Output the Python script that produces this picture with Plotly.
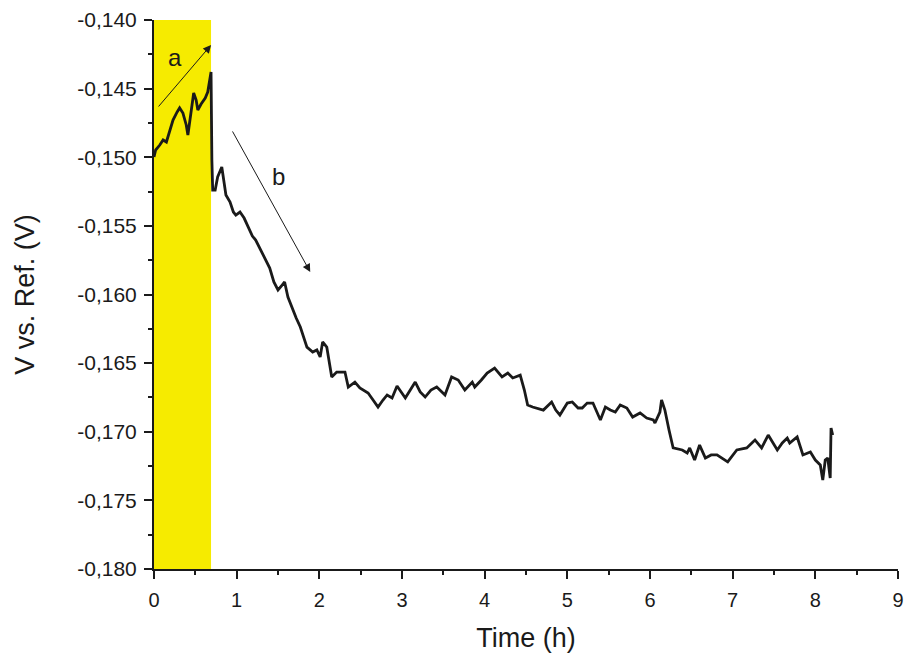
import plotly.graph_objects as go

time_h = [0.00, 0.02, 0.07, 0.11, 0.15, 0.19, 0.23, 0.28, 0.31, 0.35, 0.39, 0.41, 0.45, 0.48, 0.51,
          0.53, 0.57, 0.62, 0.65, 0.68, 0.69, 0.70, 0.71, 0.74, 0.77, 0.82, 0.87, 0.92, 0.96, 0.99,
          1.04, 1.09, 1.14, 1.19, 1.23, 1.28, 1.34, 1.40, 1.45, 1.50, 1.55, 1.58, 1.62, 1.67, 1.72,
          1.77, 1.80, 1.85, 1.92, 1.97, 2.01, 2.04, 2.09, 2.15, 2.21, 2.26, 2.31, 2.35, 2.43, 2.49,
          2.59, 2.65, 2.71, 2.77, 2.82, 2.88, 2.94, 2.99, 3.04, 3.10, 3.16, 3.22, 3.28, 3.35, 3.42,
          3.52, 3.60, 3.68, 3.76, 3.85, 3.88, 3.96, 4.03, 4.12, 4.21, 4.28, 4.34, 4.43, 4.48, 4.52,
          4.58, 4.71, 4.81, 4.86, 4.91, 5.00, 5.06, 5.13, 5.18, 5.24, 5.31, 5.40, 5.46, 5.52, 5.58,
          5.64, 5.72, 5.79, 5.88, 5.96, 6.04, 6.06, 6.12, 6.14, 6.18, 6.23, 6.28, 6.39, 6.45, 6.48,
          6.54, 6.60, 6.67, 6.74, 6.81, 6.94, 7.05, 7.17, 7.27, 7.35, 7.43, 7.54, 7.60, 7.66, 7.69,
          7.78, 7.85, 7.94, 8.00, 8.06, 8.09, 8.12, 8.15, 8.18, 8.19, 8.21]

voltage = [-0.14998, -0.14947, -0.14911, -0.14874, -0.14889, -0.14816, -0.14729, -0.14670, -0.14641,
           -0.14678, -0.14765, -0.14838, -0.14656, -0.14532, -0.14583, -0.14656, -0.14612, -0.14568,
           -0.14525, -0.14423, -0.14379, -0.15020, -0.15239, -0.15239, -0.15144, -0.15071, -0.15275,
           -0.15326, -0.15399, -0.15421, -0.15399, -0.15443, -0.15515, -0.15574, -0.15603, -0.15661,
           -0.15734, -0.15807, -0.15909, -0.15967, -0.15931, -0.15909, -0.16018, -0.16098, -0.16171,
           -0.16237, -0.16295, -0.16383, -0.16419, -0.16404, -0.16455, -0.16346, -0.16383, -0.16601,
           -0.16565, -0.16565, -0.16565, -0.16674, -0.16638, -0.16681, -0.16718, -0.16769, -0.16820,
           -0.16769, -0.16732, -0.16754, -0.16667, -0.16710, -0.16754, -0.16696, -0.16638, -0.16710,
           -0.16747, -0.16696, -0.16674, -0.16732, -0.16601, -0.16623, -0.16696, -0.16638, -0.16674,
           -0.16623, -0.16572, -0.16536, -0.16601, -0.16572, -0.16608, -0.16587, -0.16696, -0.16805,
           -0.16820, -0.16842, -0.16783, -0.16842, -0.16878, -0.16791, -0.16783, -0.16827, -0.16827,
           -0.16791, -0.16791, -0.16914, -0.16820, -0.16842, -0.16856, -0.16805, -0.16827, -0.16893,
           -0.16863, -0.16900, -0.16914, -0.16936, -0.16856, -0.16769, -0.16842, -0.16987, -0.17118,
           -0.17133, -0.17155, -0.17118, -0.17206, -0.17097, -0.17191, -0.17169, -0.17169, -0.17220,
           -0.17133, -0.17118, -0.17060, -0.17118, -0.17024, -0.17133, -0.17082, -0.17046, -0.17082,
           -0.17038, -0.17169, -0.17148, -0.17206, -0.17242, -0.17352, -0.17206, -0.17191, -0.17337,
           -0.16973, -0.17024]

y_tick_vals = [-0.180, -0.175, -0.170, -0.165, -0.160, -0.155, -0.150, -0.145, -0.140]
y_tick_text = ["-0,180", "-0,175", "-0,170", "-0,165", "-0,160", "-0,155", "-0,150", "-0,145", "-0,140"]
x_tick_vals = [0, 1, 2, 3, 4, 5, 6, 7, 8, 9]

highlight_end = 0.69

fig = go.Figure()
fig.add_trace(go.Scatter(x=time_h, y=voltage, mode="lines",
                         line=dict(color="#1a1a1a", width=2.8), showlegend=False))

fig.add_shape(type="rect", xref="x", yref="paper", x0=0, x1=highlight_end, y0=0, y1=1,
              fillcolor="#f6eb00", line=dict(width=0), layer="below")

font_family = "Liberation Sans, Arial, sans-serif"

fig.add_annotation(x=0.69, y=-0.14182, ax=0.04, ay=-0.14641, xref="x", yref="y",
                   axref="x", ayref="y", text="", showarrow=True, arrowhead=2,
                   arrowsize=1.6, arrowwidth=1, arrowcolor="#1a1a1a")
fig.add_annotation(x=1.89, y=-0.15836, ax=0.94, ay=-0.14801, xref="x", yref="y",
                   axref="x", ayref="y", text="", showarrow=True, arrowhead=2,
                   arrowsize=1.6, arrowwidth=1, arrowcolor="#1a1a1a")
fig.add_annotation(x=0.26, y=-0.1427, text="a", showarrow=False,
                   font=dict(size=24, color="#1a1a1a", family=font_family))
fig.add_annotation(x=1.51, y=-0.15137, text="b", showarrow=False,
                   font=dict(size=24, color="#1a1a1a", family=font_family))

fig.update_layout(
    width=904, height=653,
    margin=dict(l=154, r=6, t=20, b=84),
    paper_bgcolor="white", plot_bgcolor="white",
    font=dict(family=font_family, size=20, color="#1a1a1a"),
)
fig.update_xaxes(range=[0, 9], tickvals=x_tick_vals, ticks="outside", ticklen=8, tickwidth=2,
                 tickcolor="#1a1a1a", showline=True, linewidth=2, linecolor="#1a1a1a",
                 showgrid=False, zeroline=False, automargin=False, ticklabelstandoff=4,
                 minor=dict(ticks="outside", ticklen=4, tickwidth=2, tickcolor="#1a1a1a", dtick=0.5),
                 title=dict(text="Time (h)", font=dict(size=27), standoff=20),
                 tickfont=dict(size=20))
fig.update_yaxes(range=[-0.180, -0.140], tickvals=y_tick_vals, ticktext=y_tick_text,
                 ticks="outside", ticklen=8, tickwidth=2, tickcolor="#1a1a1a",
                 showline=True, linewidth=2, linecolor="#1a1a1a", showgrid=False, zeroline=False,
                 automargin=False, ticklabelstandoff=3,
                 minor=dict(ticks="outside", ticklen=4, tickwidth=2, tickcolor="#1a1a1a", dtick=0.0025),
                 title=dict(text="V vs. Ref. (V)", font=dict(size=27), standoff=35),
                 tickfont=dict(size=21))

fig.write_html("out.html", config={"displayModeBar": False},
               post_script="document.body.style.margin='0px';document.body.style.overflow='hidden';")
